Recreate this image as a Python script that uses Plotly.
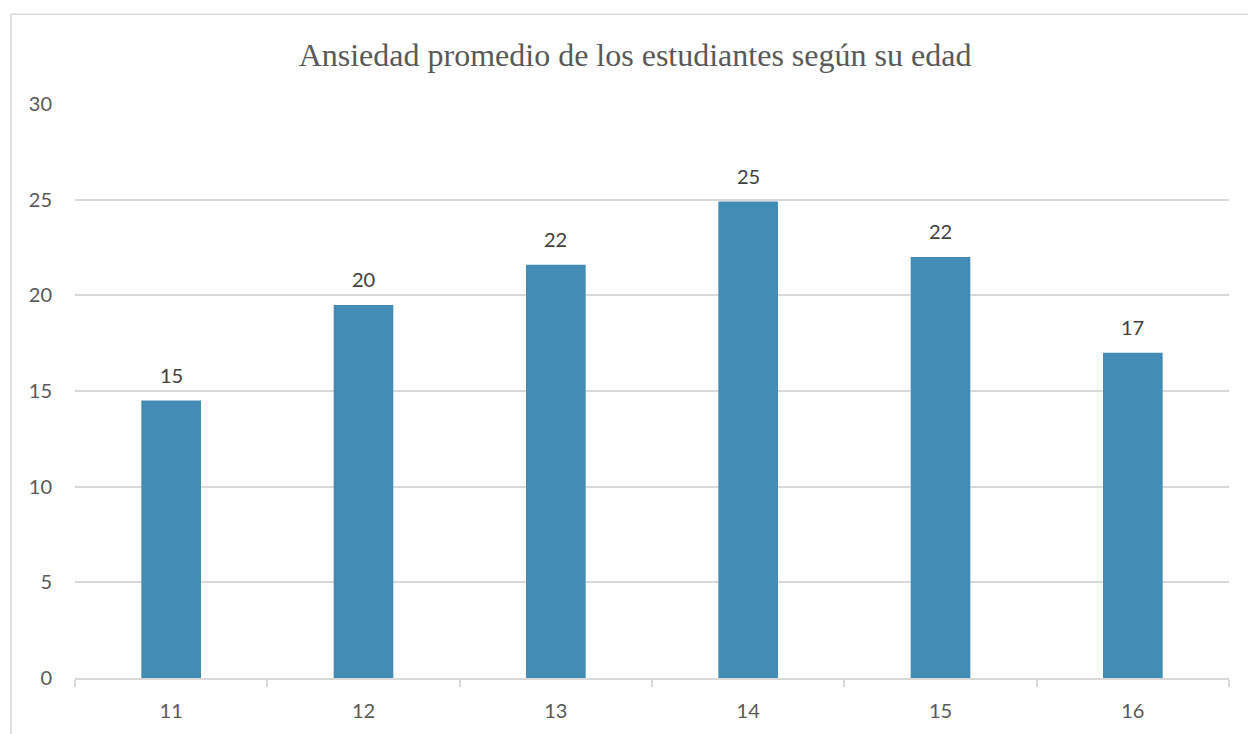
import plotly.graph_objects as go

edades = ["11", "12", "13", "14", "15", "16"]
ansiedad = [14.5, 19.5, 21.6, 24.9, 22.0, 17.0]
etiquetas = ["15", "20", "22", "25", "22", "17"]
y_ticks = [0, 5, 10, 15, 20, 25, 30]

W, H = 1248, 734
L, R, T, B = 75, 1229, 104, 680
FONT = "Lato, Open Sans, sans-serif"

fig = go.Figure()
fig.add_trace(go.Bar(
    x=edades, y=ansiedad,
    marker=dict(color="#428BB5", line=dict(width=0)),
    width=0.31,
    hoverinfo="skip",
))

for i, (v, t) in enumerate(zip(ansiedad, etiquetas)):
    fig.add_annotation(x=i, y=v, text=t, showarrow=False, yanchor="bottom",
                       yshift=12, font=dict(family=FONT, size=20, color="#404040"))

def px_x(p):
    return (p - L) / (R - L)

def px_y(p):
    return (B - p) / (B - T)

fig.add_shape(type="rect", xref="paper", yref="paper",
              x0=px_x(11), x1=px_x(1260), y0=px_y(14), y1=px_y(760),
              line=dict(color="#d9d9d9", width=1.5), fillcolor="rgba(0,0,0,0)", layer="below")

fig.update_layout(
    width=W, height=H,
    margin=dict(l=L, r=W - R, t=T, b=H - B),
    paper_bgcolor="white", plot_bgcolor="white",
    showlegend=False,
    title=dict(text="Ansiedad promedio de los estudiantes según su edad",
               font=dict(family="Liberation Serif, Times New Roman, serif", size=32, color="#595959"),
               x=635 / W, xanchor="center", y=1 - 55 / H, yanchor="middle"),
    xaxis=dict(type="category", tickson="boundaries", ticks="outside", ticklen=7,
               tickcolor="#d9d9d9", tickwidth=1.5, showgrid=False,
               showline=True, linecolor="#d9d9d9", linewidth=1.5,
               range=[-0.5, 5.5],
               tickfont=dict(family=FONT, size=20, color="#595959"),
               ticklabelstandoff=14),
    yaxis=dict(range=[0, 30], tickvals=y_ticks, showgrid=True, gridcolor="#d9d9d9",
               gridwidth=1.5, zeroline=False, showline=False, ticks="",
               tickfont=dict(family=FONT, size=20, color="#595959"),
               ticklabelstandoff=22),
)

fig.write_html("out.html", config={"displayModeBar": False},
               post_script="document.body.style.margin='0';")
